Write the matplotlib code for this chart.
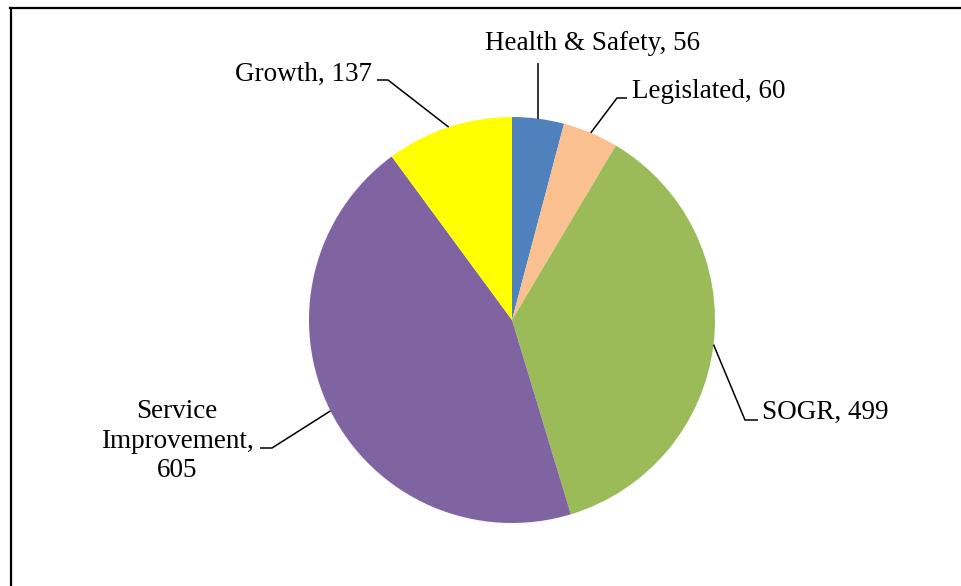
import numpy as np
import matplotlib.pyplot as plt
from matplotlib.lines import Line2D

categories = ['Health & Safety', 'Legislated', 'SOGR', 'Service\nImprovement,\n', 'Growth']
values = [56, 60, 499, 605, 137]
colors = ['#4F81BD', '#FAC090', '#9BBB59', '#8064A2', '#FFFF00']

W, H = 961, 586
plt.rcParams['font.family'] = ['Liberation Serif', 'DejaVu Serif']

fig = plt.figure(figsize=(W / 100, H / 100), dpi=100)
ax = fig.add_axes([0, 0, 1, 1])

def py(y):  # pixel row (from top) -> data y
    return H - y

cx, cy, r = 512, py(320), 203
wedges, _ = ax.pie(values, colors=colors, startangle=90, counterclock=False,
                   center=(cx, cy), radius=r, wedgeprops=dict(linewidth=0))
ax.set_xlim(0, W)
ax.set_ylim(0, H)
ax.set_aspect('equal')
ax.axis('off')

# label text position, alignment, leader elbow and end (pixels); None = straight up
labels = [
    dict(txt='Health & Safety, 56', xy=(593, 43), ha='center', elbow=None, end=63),
    dict(txt='Legislated, 60', xy=(632, 91), ha='left', elbow=(617, 98), end=(627, 98)),
    dict(txt='SOGR, 499', xy=(762, 412), ha='left', elbow=(745, 420), end=(758, 420)),
    dict(txt='Service\nImprovement,\n605', xy=(177, 441), ha='center', elbow=(272, 448), end=(260, 448)),
    dict(txt='Growth, 137', xy=(372, 74), ha='right', elbow=(388, 80), end=(377, 80)),
]

total = sum(values)
start = 90.0
for v, lab in zip(values, labels):
    mid = np.deg2rad(start - 360.0 * v / total / 2)
    start -= 360.0 * v / total
    ax0, ay0 = cx + r * np.cos(mid), cy + r * np.sin(mid)
    if lab['elbow'] is None:
        xs, ys = [ax0, ax0], [ay0, py(lab['end'])]
    else:
        ex, ey = lab['elbow']
        fx, fy = lab['end']
        xs, ys = [ax0, ex, fx], [ay0, py(ey), py(fy)]
    ax.plot(xs, ys, color='black', lw=1.1, solid_capstyle='butt')
    ax.text(lab['xy'][0], py(lab['xy'][1]), lab['txt'], ha=lab['ha'], va='center',
            fontsize=19.5, linespacing=1.24)

# chart frame (left and top edges visible)
fig.add_artist(Line2D([10.5 / W, 10.5 / W], [0, 1 - 8 / H], color='black', lw=1.6,
                      transform=fig.transFigure))
fig.add_artist(Line2D([10 / W, 1], [1 - 8 / H, 1 - 8 / H], color='black', lw=1.6,
                      transform=fig.transFigure))

fig.savefig('out.png', dpi=100)
